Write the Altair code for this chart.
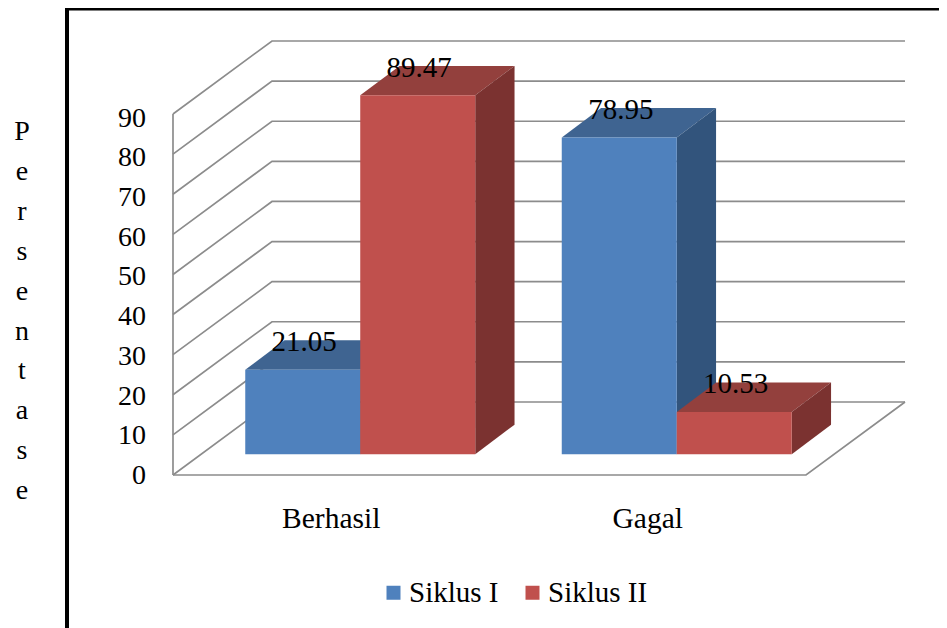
import altair as alt
import pandas as pd

categories = ["Berhasil", "Gagal"]
series = ["Siklus I", "Siklus II"]
siklus_1 = [21.05, 78.95]
siklus_2 = [89.47, 10.53]
ticks = [0, 10, 20, 30, 40, 50, 60, 70, 80, 90]
axis_title = "Persentase"

FRONT = ["#4F81BD", "#C0504D"]
TOP = ["#3F6491", "#93403D"]
SIDE = ["#32547C", "#7B3230"]
GRID = "#8C8C8C"
FONT = "Liberation Serif"

# x scale: one unit per category; y scale: value units
X_DOM = [-0.5213, 2.4202]
Y_DOM = [-38.15, 116.43]
X = alt.X("x:Q", scale=alt.Scale(domain=X_DOM, nice=False, zero=False), axis=None)
Y = alt.Y("y:Q", scale=alt.Scale(domain=Y_DOM, nice=False, zero=False), axis=None)

WALL_DX, WALL_DY = 0.3128, 18.2      # depth of the box
BAR_DX, BAR_DY = 0.1242, 7.33        # depth of one bar
BASE_DX, BASE_DY = 0.0916, 5.2       # where bars stand on the floor
BAR_W = 0.3633
GAP = (1 - 2 * BAR_W) / 2
TICK_SPREAD = 0.99                   # tick labels sit slightly closer than the ticks

layers = []

# gridlines
grid = []
for t in ticks:
    grid += [
        dict(k=t, o=0, x=0, y=t),
        dict(k=t, o=1, x=WALL_DX, y=t + WALL_DY),
        dict(k=t, o=2, x=2 + WALL_DX, y=t + WALL_DY),
    ]
grid += [
    dict(k=-1, o=0, x=0, y=0),
    dict(k=-1, o=1, x=2, y=0),
    dict(k=-1, o=2, x=2 + WALL_DX, y=WALL_DY),
    dict(k=-2, o=0, x=0, y=0),
    dict(k=-2, o=1, x=0, y=90),
]
layers.append(
    alt.Chart(pd.DataFrame(grid))
    .mark_line(color=GRID, strokeWidth=1.7)
    .encode(x=X, y=Y, detail="k:N", order="o:Q")
)

color_scale = alt.Scale(domain=series, range=FRONT)
legend = alt.Legend(
    title=None, orient="none", legendX=371, legendY=570, direction="horizontal",
    symbolType="square", symbolSize=196, symbolStrokeWidth=0,
    labelFont=FONT, labelFontSize=29, labelColor="#000000",
    columnPadding=19, labelOffset=1, padding=0,
)


def area(rows, color=None, name=None):
    base = alt.Chart(pd.DataFrame(rows)).mark_area(orient="vertical", opacity=1, line=False)
    enc = dict(x=X, y=Y, y2="y2:Q")
    if color is not None:
        enc["color"] = alt.value(color)
    else:
        enc["color"] = alt.Color("series:N", scale=color_scale, legend=legend, sort=None)
    return base.encode(**enc)


labels = []
for c in range(len(categories)):
    for s, vals in enumerate([siklus_1, siklus_2]):
        v = vals[c]
        a = c + GAP + s * BAR_W + BASE_DX
        w = BAR_W
        b = BASE_DY
        t = b + v
        front = [
            dict(x=a, y=t, y2=b, series=series[s]),
            dict(x=a + w, y=t, y2=b, series=series[s]),
        ]
        top = [
            dict(x=a, y=t, y2=t),
            dict(x=a + BAR_DX, y=t + BAR_DY, y2=t),
            dict(x=a + w, y=t + BAR_DY, y2=t),
            dict(x=a + w + BAR_DX, y=t + BAR_DY, y2=t + BAR_DY),
        ]
        side = [
            dict(x=a + w, y=t, y2=b),
            dict(x=a + w + BAR_DX, y=t + BAR_DY, y2=b + BAR_DY),
        ]
        layers += [area(top, TOP[s]), area(side, SIDE[s]), area(front)]
        labels.append(dict(x=a + w / 2, y=t, text=f"{v:.2f}"))

# value labels
layers.append(
    alt.Chart(pd.DataFrame(labels))
    .mark_text(align="center", baseline="alphabetic", dx=1.5, dy=-18.5,
               font=FONT, fontSize=29, color="#000000")
    .encode(x=X, y=Y, text="text:N")
)

# tick labels
layers.append(
    alt.Chart(pd.DataFrame({"x": [0] * len(ticks),
                            "y": [t * TICK_SPREAD for t in ticks],
                            "text": [str(t) for t in ticks]}))
    .mark_text(align="right", baseline="middle", dx=-27, dy=1,
               font=FONT, fontSize=28, color="#000000")
    .encode(x=X, y=Y, text="text:N")
)

# category labels
layers.append(
    alt.Chart(pd.DataFrame({"x": [i + 0.5 for i in range(len(categories))],
                            "y": [0] * len(categories), "text": categories}))
    .mark_text(align="center", baseline="alphabetic", dy=53,
               font=FONT, fontSize=29.5, color="#000000")
    .encode(x=X, y=Y, text="text:N")
)

one = pd.DataFrame({"a": [0]})

# stacked axis title
layers.append(
    alt.Chart(one)
    .mark_text(text=list(axis_title), align="center", baseline="alphabetic",
               lineHeight=39.9, font=FONT, fontSize=28, color="#000000")
    .encode(x=alt.value(14), y=alt.value(132))
)

# black frame
layers.append(
    alt.Chart(one).mark_rule(color="#000000", strokeWidth=4)
    .encode(x=alt.value(59), y=alt.value(0), y2=alt.value(620))
)
layers.append(
    alt.Chart(one).mark_rule(color="#000000", strokeWidth=3)
    .encode(x=alt.value(57), x2=alt.value(931), y=alt.value(1))
)

chart = (
    alt.layer(*layers)
    .properties(width=931, height=620, padding=0, autosize=alt.AutoSizeParams(type="none"),
                background="#FFFFFF")
    .configure_view(stroke=None)
)

chart.save("out.html", embed_options={"renderer": "svg", "actions": False})
